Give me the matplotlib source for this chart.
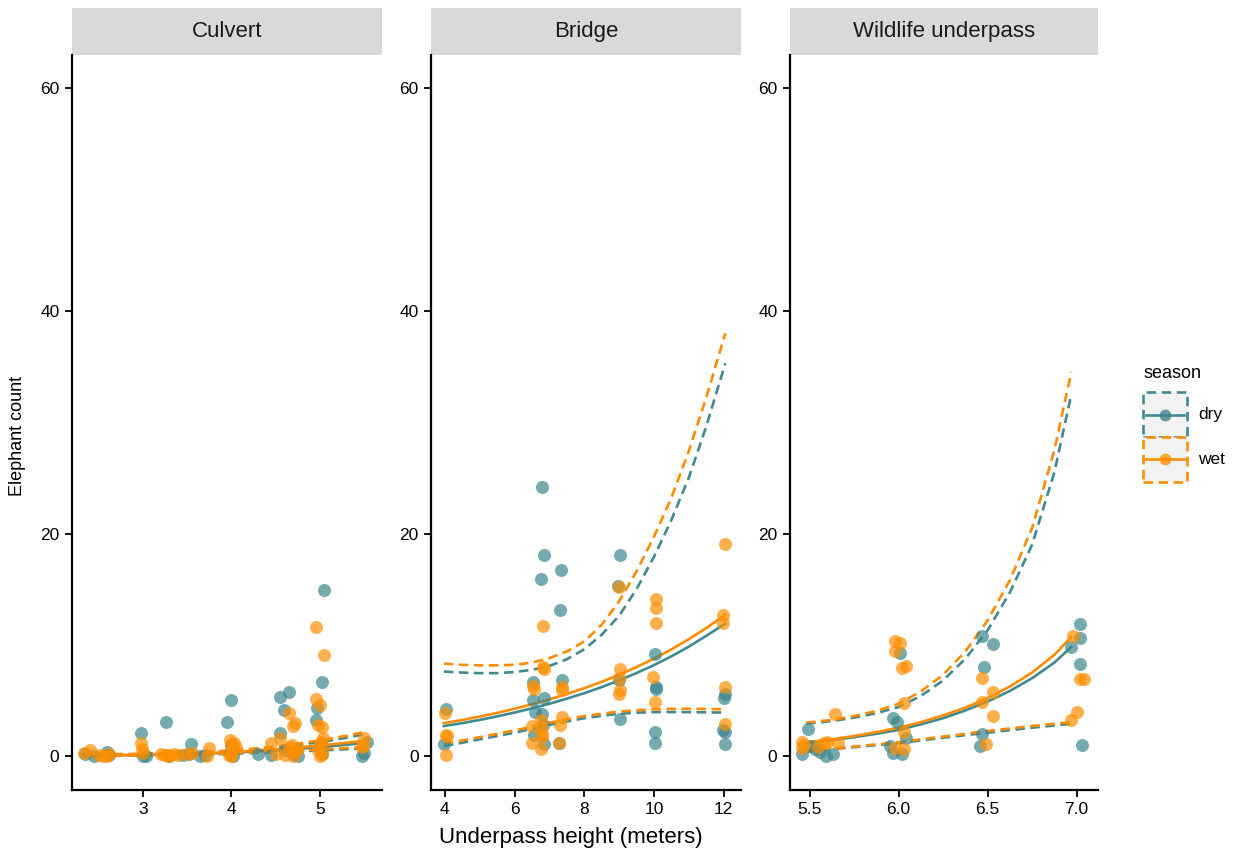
import matplotlib
matplotlib.use("Agg")
import matplotlib.pyplot as plt
from matplotlib.patches import Rectangle
from matplotlib.lines import Line2D

plt.rcParams['font.family'] = ['Liberation Sans', 'DejaVu Sans']

panels = ['Culvert', 'Bridge', 'Wildlife underpass']
seasons = ['dry', 'wet']

culvert_dry_x = [2.35, 2.45, 2.60, 2.62, 2.98, 3.00, 3.03, 3.26, 3.30, 3.45, 3.54, 3.52,
                 3.65, 3.70, 3.95, 3.99, 4.00, 3.98, 4.02, 4.30, 4.45, 4.55, 4.65, 4.59,
                 4.55, 4.60, 4.70, 4.75, 4.97, 5.04, 5.02, 4.96, 5.00, 5.02, 5.47, 5.50, 5.53]
culvert_dry_y = [0.2, 0.0, 0.4, 0.1, 2.1, 0.0, 0.0, 3.1, 0.0, 0.1, 1.1, 0.2,
                 0.0, 0.1, 3.1, 5.0, 1.0, 0.3, 0.0, 0.2, 0.1, 5.3, 5.8, 4.1,
                 2.1, 0.5, 0.2, 0.0, 4.3, 14.9, 6.65, 3.2, 1.0, 0.2, 0.0, 0.3, 1.3]
culvert_wet_x = [2.33, 2.40, 2.50, 2.60, 2.62, 2.55, 2.98, 2.99, 3.00, 3.20, 3.25, 3.30,
                 3.35, 3.28, 3.40, 3.50, 3.55, 3.75, 3.72, 3.98, 4.00, 4.02, 4.00, 3.97,
                 4.05, 4.00, 4.03, 4.45, 4.50, 4.55, 4.65, 4.72, 4.70, 4.65, 4.72, 4.60,
                 4.70, 4.75, 4.68, 4.96, 5.04, 4.96, 5.00, 4.98, 5.02, 5.03, 5.00, 4.98,
                 5.02, 5.00, 5.01, 5.50, 5.48, 5.47]
culvert_wet_y = [0.3, 0.5, 0.1, 0.0, 0.2, 0.0, 1.2, 0.6, 0.3, 0.2, 0.1, 0.0,
                 0.2, 0.1, 0.1, 0.2, 0.3, 0.7, 0.0, 1.4, 1.0, 0.6, 0.3, 0.1,
                 0.8, 0.0, 1.2, 1.2, 0.2, 1.6, 3.9, 3.0, 2.7, 0.8, 0.4, 0.1,
                 0.0, 0.6, 1.0, 11.6, 9.1, 5.1, 4.6, 2.8, 2.6, 1.6, 1.0, 0.5,
                 0.2, 0.0, 1.3, 1.6, 1.0, 0.8]

bridge_dry_x = [4.03, 3.97, 6.79, 6.84, 6.77, 7.32, 7.30, 9.04, 8.97, 6.53, 7.35, 6.52,
                6.84, 6.58, 6.80, 6.82, 6.55, 6.84, 7.28, 9.00, 9.02, 10.03, 10.05, 10.05,
                10.03, 10.03, 12.03, 12.00, 11.99, 12.03, 12.03]
bridge_dry_y = [4.2, 1.1, 24.2, 18.1, 15.9, 16.7, 13.1, 18.1, 15.3, 6.7, 6.8, 5.0,
                5.2, 4.0, 3.8, 2.8, 1.9, 1.1, 1.2, 6.8, 3.3, 9.2, 6.2, 6.0,
                2.2, 1.2, 5.6, 5.2, 2.3, 2.2, 1.05]
bridge_wet_x = [4.00, 4.03, 4.05, 4.03, 6.82, 6.82, 6.85, 6.52, 6.55, 7.35, 7.35, 6.49,
                6.49, 6.77, 6.80, 6.80, 6.80, 6.77, 7.35, 7.30, 7.28, 9.00, 9.02, 9.00,
                9.02, 9.00, 10.05, 10.05, 10.05, 9.98, 10.03, 12.05, 11.97, 11.97, 12.03, 12.05]
bridge_wet_y = [3.9, 1.9, 1.8, 0.1, 11.7, 8.0, 7.8, 6.3, 6.0, 6.2, 5.9, 2.7,
                1.2, 3.2, 2.6, 2.0, 1.7, 0.6, 3.5, 2.8, 1.2, 15.2, 7.8, 7.0,
                5.9, 5.6, 14.1, 13.3, 12.0, 7.1, 4.9, 19.1, 12.7, 12.0, 6.2, 2.9]

wild_dry_x = [5.49, 5.50, 5.46, 5.56, 5.59, 5.63, 5.53, 5.97, 5.99, 6.01, 6.04, 5.95,
              5.97, 6.02, 6.47, 6.53, 6.48, 6.47, 6.46, 7.02, 7.02, 6.97, 7.02, 7.03]
wild_dry_y = [2.4, 0.9, 0.2, 0.4, 0.0, 0.2, 0.6, 3.4, 3.1, 9.3, 1.6, 0.9,
              0.3, 0.2, 10.8, 10.1, 8.0, 2.0, 0.9, 11.9, 10.6, 9.8, 8.3, 1.0]
wild_wet_x = [5.46, 5.46, 5.47, 5.58, 5.60, 5.66, 5.55, 5.64, 5.98, 6.01, 5.98, 6.02,
              6.04, 6.03, 6.03, 5.98, 6.03, 6.47, 6.53, 6.47, 6.53, 6.49, 6.98, 7.02,
              7.04, 7.00, 6.97]
wild_wet_y = [1.3, 0.7, 1.0, 1.2, 1.3, 1.2, 0.8, 3.8, 10.3, 10.2, 9.4, 7.9,
              8.1, 4.8, 2.2, 0.7, 0.6, 7.0, 5.8, 4.9, 3.6, 1.1, 10.8, 6.9,
              6.9, 4.0, 3.2]

# ---- fitted curves (mean, lower, upper) ----
culvert_fit_x = [2.33, 2.75, 3.0, 3.5, 4.0, 4.5, 5.0, 5.25, 5.53]
culvert_dry_fit = [0.04, 0.07, 0.10, 0.18, 0.30, 0.50, 0.80, 0.98, 1.20]
culvert_dry_lo = [0.01, 0.03, 0.04, 0.10, 0.20, 0.35, 0.50, 0.60, 0.70]
culvert_dry_hi = [0.12, 0.15, 0.18, 0.27, 0.45, 0.75, 1.25, 1.58, 2.00]
culvert_wet_fit = [0.05, 0.09, 0.12, 0.20, 0.35, 0.60, 0.95, 1.15, 1.40]
culvert_wet_lo = [0.01, 0.03, 0.05, 0.12, 0.25, 0.40, 0.60, 0.70, 0.80]
culvert_wet_hi = [0.15, 0.18, 0.20, 0.30, 0.50, 0.85, 1.40, 1.75, 2.20]

bridge_fit_x = [3.97, 4.5, 5.0, 5.5, 6.0, 6.5, 7.0, 7.5, 8.0, 8.5, 9.0, 9.5,
                10.0, 10.5, 11.0, 11.5, 12.05]
bridge_dry_fit = [2.7, 2.96, 3.25, 3.57, 3.91, 4.29, 4.70, 5.16, 5.65, 6.2, 6.80, 7.46,
                  8.17, 8.96, 9.83, 10.8, 11.9]
bridge_dry_lo = [0.9, 1.2, 1.5, 1.8, 2.1, 2.45, 2.8, 3.1, 3.4, 3.62, 3.8, 3.9,
                 3.95, 3.96, 3.95, 3.93, 3.9]
bridge_dry_hi = [7.6, 7.5, 7.45, 7.45, 7.55, 7.75, 8.1, 8.7, 9.6, 10.9, 12.6, 15.0,
                 17.9, 21.2, 25.0, 29.6, 35.3]
bridge_wet_fit = [2.96, 3.24, 3.55, 3.88, 4.25, 4.65, 5.09, 5.57, 6.10, 6.67, 7.31, 8.0,
                  8.75, 9.58, 10.5, 11.5, 12.7]
bridge_wet_lo = [1.1, 1.4, 1.7, 2.0, 2.3, 2.65, 3.0, 3.3, 3.6, 3.8, 4.0, 4.12,
                 4.2, 4.24, 4.25, 4.23, 4.2]
bridge_wet_hi = [8.3, 8.2, 8.15, 8.15, 8.2, 8.4, 8.8, 9.4, 10.3, 11.8, 13.9, 16.6,
                 19.7, 23.2, 27.4, 32.2, 38.0]

wild_fit_x = [5.48, 5.625, 5.75, 5.875, 6.0, 6.125, 6.25, 6.375, 6.5, 6.625, 6.75,
              6.875, 6.97]
wild_dry_fit = [1.17, 1.42, 1.7, 2.0, 2.35, 2.85, 3.4, 4.1, 4.9, 5.85, 7.0, 8.4, 9.8]
wild_dry_lo = [0.43, 0.62, 0.8, 0.98, 1.15, 1.4, 1.65, 1.88, 2.1, 2.33, 2.55, 2.75, 2.9]
wild_dry_hi = [2.9, 3.15, 3.45, 3.85, 4.4, 5.4, 6.8, 8.75, 11.3, 14.7, 19.0, 25.5, 32.5]
wild_wet_fit = [1.24, 1.5, 1.8, 2.15, 2.55, 3.05, 3.65, 4.35, 5.2, 6.25, 7.5, 9.1, 10.7]
wild_wet_lo = [0.48, 0.68, 0.85, 1.05, 1.25, 1.5, 1.75, 2.0, 2.25, 2.48, 2.7, 2.9, 3.05]
wild_wet_hi = [3.0, 3.25, 3.6, 4.05, 4.7, 5.8, 7.3, 9.4, 12.2, 15.8, 20.5, 27.5, 34.5]

points = {
    'Culvert': {'dry': (culvert_dry_x, culvert_dry_y), 'wet': (culvert_wet_x, culvert_wet_y)},
    'Bridge': {'dry': (bridge_dry_x, bridge_dry_y), 'wet': (bridge_wet_x, bridge_wet_y)},
    'Wildlife underpass': {'dry': (wild_dry_x, wild_dry_y), 'wet': (wild_wet_x, wild_wet_y)},
}
fits = {
    'Culvert': (culvert_fit_x, {'dry': (culvert_dry_fit, culvert_dry_lo, culvert_dry_hi),
                                'wet': (culvert_wet_fit, culvert_wet_lo, culvert_wet_hi)}),
    'Bridge': (bridge_fit_x, {'dry': (bridge_dry_fit, bridge_dry_lo, bridge_dry_hi),
                              'wet': (bridge_wet_fit, bridge_wet_lo, bridge_wet_hi)}),
    'Wildlife underpass': (wild_fit_x, {'dry': (wild_dry_fit, wild_dry_lo, wild_dry_hi),
                                        'wet': (wild_wet_fit, wild_wet_lo, wild_wet_hi)}),
}

xlims = {'Culvert': (2.2, 5.7), 'Bridge': (3.6, 12.5), 'Wildlife underpass': (5.39, 7.12)}
xticks = {'Culvert': [3, 4, 5], 'Bridge': [4, 6, 8, 10, 12],
          'Wildlife underpass': [5.5, 6.0, 6.5, 7.0]}
xticklabels = {'Culvert': ['3', '4', '5'], 'Bridge': ['4', '6', '8', '10', '12'],
               'Wildlife underpass': ['5.5', '6.0', '6.5', '7.0']}

line_col = {'dry': '#3F8A91', 'wet': '#FF8C00'}
pt_col = {'dry': '#3B868D', 'wet': '#FF8F00'}
lw = 1.9
dash = (0, (3.6, 2.1))

W, H = 1239, 850
fig = plt.figure(figsize=(W / 100, H / 100), dpi=100)

lefts = [72, 431, 790]
rights = [382, 741, 1098]
top_px, bot_px, strip_px = 55, 790, 8

for i, name in enumerate(panels):
    ax = fig.add_axes([lefts[i] / W, 1 - bot_px / H,
                       (rights[i] - lefts[i]) / W, (bot_px - top_px) / H])
    xs, curves = fits[name]
    for s in seasons:
        fit, lo, hi = curves[s]
        ax.plot(xs, fit, color=line_col[s], lw=lw, zorder=2)
        ax.plot(xs, lo, color=line_col[s], lw=lw, ls=dash, zorder=2)
        ax.plot(xs, hi, color=line_col[s], lw=lw, ls=dash, zorder=2)
    for s in seasons:
        px, py = points[name][s]
        ax.scatter(px, py, s=88, color=pt_col[s], alpha=0.7, linewidths=0, zorder=3)

    ax.set_xlim(*xlims[name])
    ax.set_ylim(-3.05, 63.0)
    ax.set_xticks(xticks[name])
    ax.set_xticklabels(xticklabels[name])
    ax.set_yticks([0, 20, 40, 60])
    for sp in ['top', 'right']:
        ax.spines[sp].set_visible(False)
    for sp in ['left', 'bottom']:
        ax.spines[sp].set_linewidth(1.6)
    ax.tick_params(direction='out', length=5, width=1.3, labelsize=12.5,
                   colors='black', pad=4)

    strip_h = (top_px - strip_px) / (bot_px - top_px)
    ax.add_patch(Rectangle((0, 1), 1, strip_h, transform=ax.transAxes,
                           facecolor='#D9D9D9', edgecolor='none', clip_on=False))
    ax.text(0.5, 1 + strip_h / 2, name, transform=ax.transAxes, ha='center',
            va='center', fontsize=16, color='#1A1A1A')

fig.text(18 / W, 1 - 436 / H, 'Elephant count', rotation=90, ha='center',
         va='center', fontsize=13)
fig.text(571 / W, 1 - 838 / H, 'Underpass height (meters)', ha='center',
         va='center', fontsize=16)

# legend (drawn by hand to mimic ggplot keys)
fig.text(1143 / W, 1 - 373 / H, 'season', ha='left', va='center', fontsize=13)
key_top = [392, 437]
for s, kt in zip(seasons, key_top):
    x0, x1 = 1143, 1187
    y0, y1 = kt, kt + 45
    fig.add_artist(Rectangle((x0 / W, 1 - y1 / H), (x1 - x0) / W, (y1 - y0) / H,
                             transform=fig.transFigure, facecolor='#F2F2F2',
                             edgecolor=line_col[s], lw=lw, ls=dash))
    yc = 1 - (y0 + y1) / 2 / H
    fig.add_artist(Line2D([(x0 + 3) / W, (x1 - 3) / W], [yc, yc],
                          transform=fig.transFigure, color=line_col[s], lw=lw))
    fig.add_artist(Line2D([(x0 + x1) / 2 / W], [yc], transform=fig.transFigure,
                          marker='o', ms=8.5, color=pt_col[s], alpha=0.8, mec='none'))
    fig.text(1198 / W, yc, s, ha='left', va='center', fontsize=12.5)

plt.savefig('out.png', dpi=100)
